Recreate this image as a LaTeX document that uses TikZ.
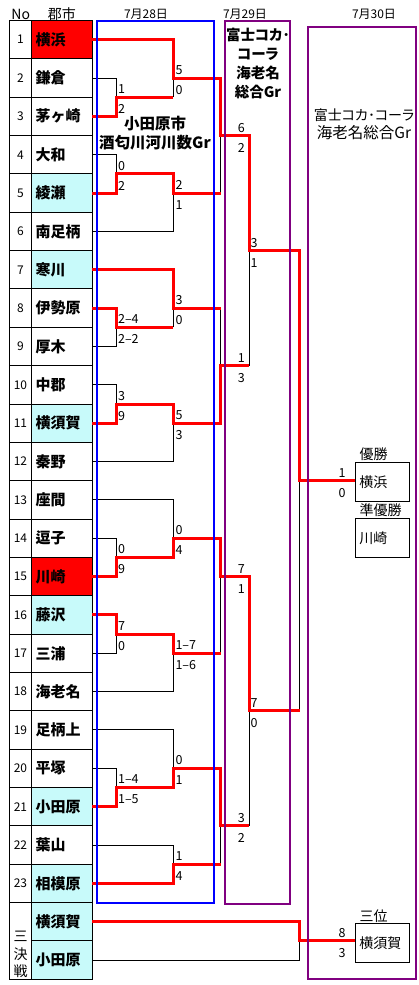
\documentclass[tikz,border=0pt]{standalone}
\usepackage{fontspec}
\setmainfont{Noto Sans CJK JP}
\newfontfamily\propfont[RawFeature=+palt]{Noto Sans CJK JP}
\usetikzlibrary{matrix}
\definecolor{grpurple}{RGB}{128,0,128}
\definecolor{dotcyan}{RGB}{200,250,250}
\newcommand{\scores}[4]{%
	\node[score] (#1-u) at ([xshift=#2pt,yshift=8pt]#1) {#3};
	\node[score] (#1-l) at ([xshift=#2pt,yshift=-12pt]#1) {#4};
}

\begin{document}
\begin{tikzpicture}[x=1pt, y=-1pt,
	nocell/.style={draw, line width=1pt, anchor=center, inner sep=0pt, outer sep=0pt, minimum width=22.4pt, minimum height=38.35pt, font=\fontsize{12}{12}\selectfont},
	citycell/.style={draw, line width=1pt, anchor=center, inner xsep=4pt, inner ysep=0pt, outer sep=0pt, text width=52.6pt, align=left, minimum height=38.35pt, font=\fontsize{15}{15}\selectfont\bfseries},
	hot/.style={fill=red},
	dot/.style={fill=dotcyan},
	win/.style={red, line width=3pt},
	lose/.style={line width=1pt},
	score/.style={anchor=west, inner sep=0pt, font=\fontsize{12.5}{12.5}\selectfont},
	hd/.style={inner sep=0pt, font=\fontsize{14}{14}\selectfont},
	day/.style={inner sep=0pt, font=\fontsize{12}{12}\selectfont},
	bluebox/.style={draw=blue, line width=2pt},
	grbox/.style={draw=grpurple, line width=2pt},
	resbox/.style={draw, line width=1pt, anchor=north west, inner xsep=3.5pt, inner ysep=0pt, text width=47pt, align=left, minimum height=38.5pt, font=\fontsize{14}{14}\selectfont},
	lbl/.style={anchor=south west, inner sep=1pt, font=\fontsize{14}{14}\selectfont}
	]
	\useasboundingbox (0,0) rectangle (418,985);

	\node[hd] (hno) at (20.8,14) {No};
	\node[hd] (hcity) at (61.8,14) {郡市};
	\node[day] (day1) at (146,14) {7月28日};
	\node[day] (day2) at (245,14) {7月29日};
	\node[day] (day3) at (374,14) {7月30日};

	\matrix (m) [matrix of nodes, anchor=north west, inner sep=0pt, outer sep=0pt, row sep=-1pt, column sep=-1pt,
		column 1/.style={nodes={nocell}}, column 2/.style={nodes={citycell}}] at (8.8,20)
	{
		1 & |[hot]| 横浜 \\
		2 & 鎌倉 \\
		3 & 茅ヶ崎 \\
		4 & 大和 \\
		5 & |[dot]| 綾瀬 \\
		6 & 南足柄 \\
		7 & |[dot]| 寒川 \\
		8 & 伊勢原 \\
		9 & 厚木 \\
		10 & 中郡 \\
		11 & |[dot]| 横須賀 \\
		12 & 秦野 \\
		13 & 座間 \\
		14 & 逗子 \\
		15 & |[hot]| 川崎 \\
		16 & |[dot]| 藤沢 \\
		17 & 三浦 \\
		18 & 海老名 \\
		19 & 足柄上 \\
		20 & 平塚 \\
		21 & |[dot]| 小田原 \\
		22 & 葉山 \\
		23 & |[dot]| 相模原 \\
		& |[dot]| 横須賀 \\
		& |[dot]| 小田原 \\
	};
	\draw[line width=1pt] (m-23-1.south west) rectangle (m-25-2.south west);
	\node[anchor=south, align=center, inner sep=1pt, font=\fontsize{14}{17.5}\selectfont] (sanketsu) at (m-25-2.south west -| m-23-1.south) {三\\決\\戦};

	\coordinate (a1) at (m-2-2.south -| 116.7,0);
	\coordinate (a2) at (m-4-2.south -| 116.7,0);
	\coordinate (a3) at (m-8-2.south -| 116.7,0);
	\coordinate (a4) at (m-10-2.south -| 116.7,0);
	\coordinate (a5) at (m-14-2.south -| 116.7,0);
	\coordinate (a6) at (m-16-2.south -| 116.7,0);
	\coordinate (a7) at (m-20-2.south -| 116.7,0);
	\coordinate (b1) at (m-2-2.east -| 173.3,0);
	\coordinate (b2) at (m-5-2.east -| 173.3,0);
	\coordinate (b3) at (m-8-2.east -| 173.3,0);
	\coordinate (b4) at (m-11-2.east -| 173.3,0);
	\coordinate (b5) at (m-14-2.east -| 173.3,0);
	\coordinate (b6) at (m-17-2.east -| 173.3,0);
	\coordinate (b7) at (m-20-2.east -| 173.3,0);
	\coordinate (b8) at (m-22-2.south -| 173.3,0);
	\coordinate (c1) at (m-3-2.south -| 220.7,0);
	\coordinate (c2) at (m-9-2.south -| 220.7,0);
	\coordinate (c3) at (m-15-2.east -| 220.7,0);
	\coordinate (c4) at (m-21-2.south -| 220.7,0);
	\coordinate (d1) at (m-6-2.south -| 249,0);
	\coordinate (d2) at (m-18-2.south -| 249,0);
	\coordinate (f) at (m-12-2.south -| 299.5,0);
	\coordinate (t) at (m-24-2.south -| 299.5,0);

	\node[resbox] (yusho) at (355.3,462.3) {横浜};
	\node[lbl] (yushol) at ([xshift=3pt]yusho.north west) {優勝};
	\node[resbox] (jun) at (355.3,518.3) {川崎};
	\node[lbl] (junl) at ([xshift=3pt]jun.north west) {準優勝};
	\node[resbox] (sani) at (355.3,923.3) {横須賀};
	\node[lbl] (sanil) at ([xshift=3pt]sani.north west) {三位};

	\foreach \r/\p in {2/a1, 4/a2, 6/b2, 9/a3, 10/a4, 12/b4, 13/b5, 14/a5, 17/a6, 18/b6, 19/b7, 20/a7, 22/b8, 25/t}
		\draw[lose] (m-\r-2.east) -| (\p);
	\foreach \p/\q in {a1/b1, a3/b3, b2/c1, b3/c2, b6/c3, b8/c4, c2/d1, c4/d2, d2/f}
		\draw[lose] (\p -| \q) -- (\q);

	\draw[win] (m-1-2.east) -| (b1) -| (c1) -| (d1) -| (f) -- (f -| yusho.west);
	\draw[win] (m-3-2.east) -| (a1) -- (a1 -| b1);
	\draw[win] (m-5-2.east) -| (a2) -| (b2) -- (b2 -| c1);
	\draw[win] (m-7-2.east) -| (b3) -- (b3 -| c2);
	\draw[win] (m-8-2.east) -| (a3) -- (a3 -| b3);
	\draw[win] (m-11-2.east) -| (a4) -| (b4) -| (c2) -- (c2 -| d1);
	\draw[win] (m-15-2.east) -| (a5) -| (b5) -| (c3) -| (d2) -- (d2 -| f);
	\draw[win] (m-16-2.east) -| (a6) -| (b6) -- (b6 -| c3);
	\draw[win] (m-21-2.east) -| (a7) -| (b7) -| (c4) -- (c4 -| d2);
	\draw[win] (m-23-2.east) -| (b8) -- (b8 -| c4);
	\draw[win] (m-24-2.east) -| (t) -- (t -| sani.west);

	\draw[bluebox] (96.7,20.7) rectangle (214.3,903.3);
	\draw[grbox] (225,20.7) rectangle (290,904);
	\draw[grbox] (307.5,26.7) rectangle (416.2,979);

	\node[align=center, inner sep=0pt, font=\fontsize{15.5}{19.4}\selectfont\bfseries] (gr28) at (155,133) {小田原市\\酒匂川河川数Gr};
	\node[align=center, inner sep=0pt, font=\fontsize{14.5}{18.9}\selectfont\propfont\bfseries] (gr29) at (258,63.3) {富士コカ･\\コーラ\\海老名\\総合Gr};
	\node[align=center, inner sep=0pt, font=\fontsize{14}{18.3}\selectfont\propfont] (gr30) at (364,124.2) {富士コカ･コーラ\\{\fontsize{15.5}{18.3}\selectfont 海老名総合Gr}};

	\scores{a1}{1.2}{1}{2}
	\scores{a2}{1.2}{0}{2}
	\scores{a3}{1.2}{2--4}{2--2}
	\scores{a4}{1.2}{3}{9}
	\scores{a5}{1.2}{0}{9}
	\scores{a6}{1.2}{7}{0}
	\scores{a7}{1.2}{1--4}{1--5}
	\scores{b1}{2}{5}{0}
	\scores{b2}{2}{2}{1}
	\scores{b3}{2}{3}{0}
	\scores{b4}{2}{5}{3}
	\scores{b5}{2}{0}{4}
	\scores{b6}{2}{1--7}{1--6}
	\scores{b7}{2}{0}{1}
	\scores{b8}{2}{1}{4}
	\scores{c1}{17}{6}{2}
	\scores{c2}{17}{1}{3}
	\scores{c3}{17}{7}{1}
	\scores{c4}{17}{3}{2}
	\scores{d1}{1.5}{3}{1}
	\scores{d2}{1.5}{7}{0}
	\scores{f}{38.8}{1}{0}
	\scores{t}{38.8}{8}{3}
\end{tikzpicture}
\end{document}
